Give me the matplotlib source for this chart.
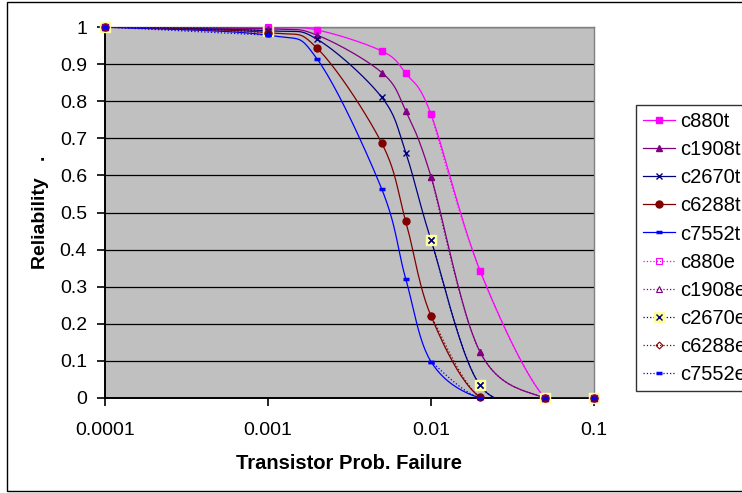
import numpy as np
import matplotlib.pyplot as plt
from matplotlib.lines import Line2D
from matplotlib.patches import Rectangle
from matplotlib.legend_handler import HandlerTuple

# transistor failure probability (x) and reliability of each circuit
x = [0.0001, 0.001, 0.002, 0.005, 0.007, 0.01, 0.02, 0.05, 0.1]
c880t = [1.0, 0.998, 0.992, 0.935, 0.875, 0.765, 0.343, 0.0, 0.0]
c1908t = [1.0, 0.995, 0.978, 0.877, 0.774, 0.597, 0.124, 0.0, 0.0]
c2670t = [1.0, 0.99, 0.967, 0.81, 0.661, 0.426, 0.034, 0.0, 0.0]
c6288t = [1.0, 0.985, 0.943, 0.686, 0.476, 0.221, 0.002, 0.0, 0.0]
c7552t = [1.0, 0.978, 0.914, 0.562, 0.321, 0.098, 0.0, 0.0, 0.0]

nan = np.nan
c880e = [1.0, 1.0, nan, nan, nan, 0.765, 0.343, 0.0, 0.0]
c1908e = [1.0, 0.995, nan, nan, nan, 0.597, 0.124, 0.0, 0.0]
c2670e = [1.0, 0.99, nan, nan, nan, 0.426, 0.034, 0.0, 0.0]
c6288e = [1.0, 0.985, nan, nan, nan, 0.221, 0.002, 0.0, 0.0]
c7552e = [1.0, 0.978, nan, nan, nan, 0.098, 0.0, 0.0, 0.0]

xticks = [0.0001, 0.001, 0.01, 0.1]
xticklabels = ['0.0001', '0.001', '0.01', '0.1']
yticks = [0, 0.1, 0.2, 0.3, 0.4, 0.5, 0.6, 0.7, 0.8, 0.9, 1]
yticklabels = ['0', '0.1', '0.2', '0.3', '0.4', '0.5', '0.6', '0.7', '0.8', '0.9', '1']

plt.rcParams['font.family'] = ['Liberation Sans', 'DejaVu Sans']


def smooth(xs, ys, n=24):
    # excel-like smoothed line (catmull-rom in log x), split at gaps
    xs = np.asarray(xs, float)
    ys = np.asarray(ys, float)
    ok = ~np.isnan(ys)
    runs, cur = [], []
    for i in range(len(xs)):
        if ok[i]:
            cur.append(i)
        elif cur:
            runs.append(cur)
            cur = []
    if cur:
        runs.append(cur)
    pieces = []
    for r in runs:
        pts = np.column_stack([np.log10(xs[r]), ys[r]])
        if len(pts) < 2:
            continue
        p = np.vstack([pts[0], pts, pts[-1]])
        out = []
        t = np.linspace(0, 1, n, endpoint=False)[:, None]
        for i in range(1, len(p) - 2):
            p0, p1, p2, p3 = p[i - 1], p[i], p[i + 1], p[i + 2]
            seg = 0.5 * (2 * p1 + (-p0 + p2) * t
                         + (2 * p0 - 5 * p1 + 4 * p2 - p3) * t ** 2
                         + (-p0 + 3 * p1 - 3 * p2 + p3) * t ** 3)
            out.append(seg)
        out.append(pts[-1:])
        s = np.vstack(out)
        pieces.append((10 ** s[:, 0], s[:, 1]))
    return pieces


fig = plt.figure(figsize=(7.42, 4.93), dpi=100)
ax = fig.add_axes([105 / 742, 1 - 398 / 493, (594 - 105) / 742, (398 - 27) / 493])
ax.set_facecolor('#C0C0C0')

# outer chart border
fig.patches.append(Rectangle((7 / 742, 2 / 493), 1.2, 489 / 493, transform=fig.transFigure,
                             fill=False, edgecolor='black', linewidth=1.0))

series = [
    ('c880t', c880t, '#FF00FF', '-', dict(marker='s', ms=5, mfc='#FF00FF', mec='#FF00FF')),
    ('c1908t', c1908t, '#800080', '-', dict(marker='^', ms=5, mfc='#800080', mec='#800080')),
    ('c2670t', c2670t, '#000080', '-', dict(marker='x', ms=5, mec='#000080', mew=1.0)),
    ('c6288t', c6288t, '#800000', '-', dict(marker='o', ms=5, mfc='#800000', mec='#800000')),
    ('c7552t', c7552t, '#0000FF', '-', dict(marker='_', ms=5, mec='#0000FF', mew=2.5)),
    ('c880e', c880e, '#FF00FF', ':', dict(marker='s', ms=5, mfc='none', mec='#FF00FF', mew=0.8)),
    ('c1908e', c1908e, '#800080', ':', dict(marker='^', ms=5, mfc='none', mec='#800080', mew=0.8)),
    ('c2670e', c2670e, '#000080', ':', dict(marker='x', ms=5, mec='#000080', mew=1.0)),
    ('c6288e', c6288e, '#800000', ':', dict(marker='D', ms=3.5, mfc='none', mec='#800000', mew=0.8)),
    ('c7552e', c7552e, '#0000FF', ':', dict(marker='_', ms=5, mec='#0000FF', mew=2.5)),
]

handles, labels = [], []
for name, ys, col, ls, mk in series:
    for sx, sy in smooth(x, ys):
        ax.plot(sx, sy, color=col, ls=ls, lw=0.9, zorder=3)
    yv = np.asarray(ys, float)
    ok = ~np.isnan(yv)
    xv = np.asarray(x)[ok]
    if name == 'c2670e':
        ax.plot(xv, yv[ok], ls='none', marker='s', ms=7.5, mfc='#FFFF99', mec='#FFFF99',
                zorder=4, clip_on=False)
        box = Line2D([], [], ls='none', marker='s', ms=7.5, mfc='#FFFF99', mec='#FFFF99')
    ax.plot(xv, yv[ok], ls='none', zorder=5, clip_on=False, **mk)
    h = Line2D([], [], color=col, ls=ls, lw=0.9, **mk)
    if name == 'c2670e':
        h = (Line2D([], [], color=col, ls=ls, lw=0.9), box, Line2D([], [], ls='none', **mk))
    handles.append(h)
    labels.append(name)

ax.set_xscale('log')
ax.set_xlim(0.0001, 0.1)
ax.set_ylim(0, 1)
ax.set_xticks(xticks)
ax.set_xticklabels(xticklabels)
ax.xaxis.set_minor_locator(plt.NullLocator())
ax.set_yticks(yticks)
ax.set_yticklabels(yticklabels)
ax.tick_params(axis='both', direction='out', length=6, width=1.2, labelsize=14, color='black')
ax.tick_params(axis='x', pad=11)
ax.tick_params(axis='y', pad=7)
ax.grid(axis='y', color='black', lw=0.9)
ax.set_axisbelow(True)
for s in ('left', 'bottom'):
    ax.spines[s].set_color('black')
    ax.spines[s].set_linewidth(1.4)
for s in ('top', 'right'):
    ax.spines[s].set_color('#808080')
    ax.spines[s].set_linewidth(1.0)

ax.set_xlabel('Transistor Prob. Failure', fontsize=14.5, fontweight='bold', labelpad=11)
ax.set_ylabel('Reliability   .', fontsize=14, fontweight='bold', labelpad=8)

# legend runs past the right edge, as in the original
leg = fig.legend(handles, labels, loc='upper left', bbox_to_anchor=(636 / 742, 1 - 105 / 493),
                 fontsize=14.5, frameon=True, fancybox=False, edgecolor='black',
                 borderaxespad=0, borderpad=0.36, handlelength=1.6, handletextpad=0.25,
                 labelspacing=0.45, handler_map={tuple: HandlerTuple(ndivide=1, pad=0)})
leg.get_frame().set_linewidth(1.0)

plt.savefig('out.png', dpi=100)
